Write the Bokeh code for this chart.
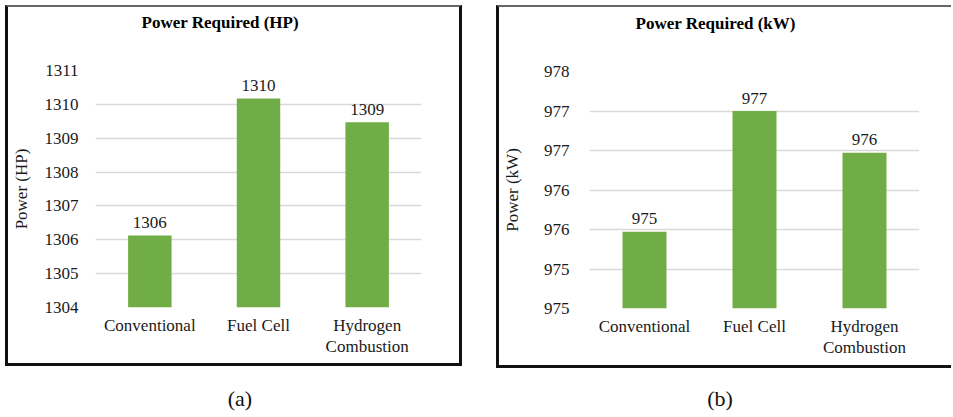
from bokeh.plotting import figure
from bokeh.models import (Range1d, FactorRange, Div, ColumnDataSource,
                          CategoricalAxis)
from bokeh.core.properties import value
from bokeh.layouts import row, column
from bokeh.embed import file_html
from bokeh.resources import INLINE

categories = ["Conventional", "Fuel Cell", "Hydrogen Combustion"]
cat_line1 = ["Conventional", "Fuel Cell", "Hydrogen"]
cat_line2 = [" ", "  ", "Combustion"]
blank_factors = [" ", "  ", "   "]

hp_values = [1306.13, 1310.17, 1309.47]
hp_ticks = [1304, 1305, 1306, 1307, 1308, 1309, 1310, 1311]
hp_tick_labels = ["1304", "1305", "1306", "1307", "1308", "1309", "1310", "1311"]

kw_values = [975.47, 977.0, 976.47]
kw_ticks = [974.5, 975.0, 975.5, 976.0, 976.5, 977.0, 977.5]
kw_tick_labels = ["975", "975", "976", "976", "977", "977", "978"]

GREEN = "#70AD47"
FONT = "'Liberation Serif'"
TXT = "#1a1a1a"


def style_axis(ax):
    ax.axis_line_color = None
    ax.major_tick_line_color = None
    ax.minor_tick_line_color = None
    ax.major_label_text_font = FONT
    ax.major_label_text_font_size = "17px"
    ax.major_label_text_color = TXT


def make_chart(title, ylabel, values, ticks, tick_labels, yr, width, height,
               mb, title_offset, title_gap, tick_standoff, label_standoff,
               styles):
    p = figure(x_range=FactorRange(*categories, range_padding=0),
               y_range=Range1d(*yr), width=width, height=height,
               output_backend="svg", toolbar_location=None, title=title,
               min_border_left=mb[0], min_border_right=mb[1],
               min_border_top=mb[2], min_border_bottom=mb[3])
    p.styles = styles
    src = ColumnDataSource(dict(cat=categories, val=values,
                                lab=[f"{v:.0f}" for v in values]))
    p.vbar(x="cat", top="val", bottom=yr[0], width=0.4, source=src,
           fill_color=GREEN, line_color=None)
    p.text(x="cat", y="val", text="lab", source=src, text_align="center",
           text_baseline="alphabetic", y_offset=-13, text_font=value(FONT),
           text_font_size=value("17px"), text_color=TXT)
    p.title.text_font = FONT
    p.title.text_font_size = "17px"
    p.title.text_font_style = "bold"
    p.title.text_color = "#000"
    p.title.align = "left"
    p.title.offset = title_offset
    p.title.standoff = 0
    p.outline_line_color = None
    p.xgrid.grid_line_color = None
    p.ygrid.grid_line_color = "#D9D9D9"
    p.ygrid.grid_line_width = 1.3
    p.yaxis.ticker = ticks
    p.yaxis.major_label_overrides = {t: l for t, l in zip(ticks, tick_labels)}
    p.xaxis.visible = False
    p.extra_x_ranges = {"line1": FactorRange(*cat_line1, range_padding=0),
                        "line2": FactorRange(*cat_line2, range_padding=0),
                        "blank": FactorRange(*blank_factors, range_padding=0)}
    # blank spacer axis between the frame and the title
    spacer = CategoricalAxis(x_range_name="blank", major_tick_out=title_gap,
                             major_tick_in=0, major_label_standoff=0)
    spacer.axis_line_color = None
    spacer.major_tick_line_color = None
    spacer.minor_tick_line_color = None
    spacer.major_label_text_font_size = "1px"
    p.add_layout(spacer, "above")
    # two-line category labels: one axis per text line
    ax1 = CategoricalAxis(x_range_name="line1")
    style_axis(ax1)
    ax1.major_label_standoff = 2
    p.add_layout(ax1, "below")
    ax2 = CategoricalAxis(x_range_name="line2")
    style_axis(ax2)
    ax2.major_label_standoff = -7
    p.add_layout(ax2, "below")
    style_axis(p.yaxis[0])
    p.yaxis.major_label_standoff = tick_standoff
    p.yaxis.axis_label = ylabel
    p.yaxis.axis_label_text_font = FONT
    p.yaxis.axis_label_text_font_size = "17px"
    p.yaxis.axis_label_text_font_style = "normal"
    p.yaxis.axis_label_text_color = TXT
    p.yaxis.axis_label_standoff = label_standoff
    return p


border_a = {"border-left": "3px solid #111", "border-bottom": "3px solid #111",
            "border-right": "3px solid #111", "border-top": "2px solid #666",
            "box-sizing": "border-box"}
border_b = {"border-left": "3px solid #111", "border-bottom": "3px solid #111",
            "border-top": "2px solid #666", "box-sizing": "border-box"}

fig_a = make_chart("Power Required (HP)", "Power (HP)", hp_values, hp_ticks,
                   hp_tick_labels, (1304, 1311), 457, 361, (80, 44, 63, 61),
                   46, 35, 11, 11, border_a)
fig_b = make_chart("Power Required (kW)", "Power (kW)", kw_values, kw_ticks,
                   kw_tick_labels, (974.5, 977.5), 455, 363, (80, 35, 64, 62),
                   46, 35, 14, 19, border_b)

cap_style = {"font-family": FONT, "font-size": "22px", "text-align": "center",
             "color": "#111"}
div_a = Div(text="(a)", width=100, height=30, styles=cap_style,
            margin=(17, 0, 0, 185))
div_b = Div(text="(b)", width=100, height=30, styles=cap_style,
            margin=(15, 0, 0, 174))

col_a = column(fig_a, div_a, margin=(5, 0, 0, 5), spacing=0)
col_b = column(fig_b, div_b, margin=(5, 0, 0, 34), spacing=0)
root = row(col_a, col_b, spacing=0)

open("out.html", "w").write(file_html(root, INLINE))
